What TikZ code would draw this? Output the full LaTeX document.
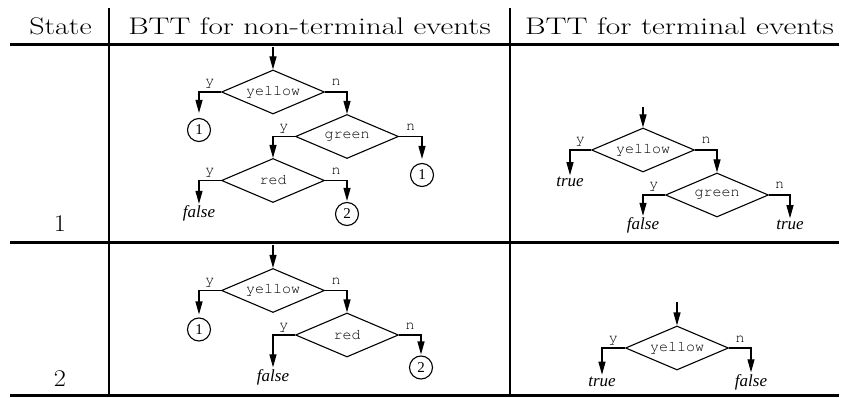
\documentclass[tikz,border=0pt]{standalone}
\usepackage{fontspec}
\usepackage{graphicx}
\usetikzlibrary{shapes.geometric,arrows.meta}
\newfontfamily\monofam{TeX Gyre Cursor}
\newfontfamily\timesfam{Liberation Serif}
\newcommand\hwide[2]{\resizebox{#1}{\height}{#2}}

\begin{document}
\begin{tikzpicture}[x=1pt,y=-1pt,
  hdr/.style={anchor=base,inner sep=0pt,font=\fontsize{24}{28}\selectfont},
  hrule/.style={line width=2.6pt},
  vrule/.style={line width=2pt},
  dia/.style={diamond,draw,line width=1.1pt,aspect=2.35,minimum width=103pt,minimum height=44pt,
    inner sep=0pt,font=\monofam\fontsize{15}{16}\selectfont},
  lab/.style={pos=0.25,anchor=base,yshift=6pt,inner sep=0pt,
    font=\monofam\fontsize{15}{16}\selectfont},
  arr/.style={-{Triangle[length=13pt,width=7pt]},line width=1.1pt},
  circ/.style={circle,draw,line width=1.1pt,minimum size=23pt,inner sep=0pt,
    font=\timesfam\fontsize{15}{16}\selectfont},
  res/.style={anchor=base,inner sep=2pt,font=\timesfam\itshape\fontsize{17}{18}\selectfont}]
\useasboundingbox (0,0) rectangle (841,398);

% table frame
\draw[hrule] (10,44.3) -- (839,44.3);
\draw[hrule] (10,242.5) -- (839,242.5);
\draw[hrule] (10,395.5) -- (839,395.5);
\draw[vrule] (108.8,8) -- (108.8,395.5);
\draw[vrule] (509.5,8) -- (509.5,395.5);

% header and state column
\node[hdr] (hState) at (60.5,35) {\hwide{62.4pt}{State}};
\node[hdr] (hNon) at (309.5,35) {\hwide{362.4pt}{BTT for non-terminal events}};
\node[hdr] (hTerm) at (679.5,35) {\hwide{309pt}{BTT for terminal events}};
\node[hdr] (s1) at (60,231.7) {\scalebox{1.1}[1]{1}};
\node[hdr] (s2) at (60,386.7) {\scalebox{1.1}[1]{2}};

% state 1, non-terminal events
\coordinate (Ain) at (273,47);
\node[dia] (A1) at (273,92) {yellow};
\node[dia] (A2) at (347,136.5) {green};
\node[dia] (A3) at (273,180.5) {red};
\node[circ] (Ac1) at (199,130) {1};
\node[circ] (Ac2) at (422,175) {1};
\node[res] (Af) at (199,218) {false};
\node[circ] (Ac3) at (347,214) {2};
\draw[arr] (Ain) -- (A1.north);
\draw[arr,shorten >=5pt] (A1.west) -| node[lab]{y} (Ac1.north);
\draw[arr] (A1.east) -| node[lab]{n} (A2.north);
\draw[arr] (A2.west) -| node[lab]{y} (A3.north);
\draw[arr,shorten >=4pt] (A2.east) -| node[lab]{n} (Ac2.north);
\draw[arr] (A3.west) -| node[lab]{y} (Af.north);
\draw[arr,shorten >=1pt] (A3.east) -| node[lab]{n} (Ac3.north);

% state 1, terminal events
\coordinate (Bin) at (643,107);
\node[dia] (B1) at (643,150) {yellow};
\node[dia] (B2) at (717,195) {green};
\node[res] (Bt1) at (570,187) {true};
\node[res] (Bf) at (643,230) {false};
\node[res] (Bt2) at (790,230) {true};
\draw[arr] (Bin) -- (B1.north);
\draw[arr] (B1.west) -| node[lab]{y} (Bt1.north);
\draw[arr] (B1.east) -| node[lab]{n} (B2.north);
\draw[arr] (B2.west) -| node[lab]{y} (Bf.north);
\draw[arr] (B2.east) -| node[lab]{n} (Bt2.north);

% state 2, non-terminal events
\coordinate (Cin) at (273,245);
\node[dia] (C1) at (273,290.5) {yellow};
\node[dia] (C2) at (347,335) {red};
\node[circ] (Cc1) at (199,329.5) {1};
\node[res] (Cf) at (273,381.5) {false};
\node[circ] (Cc2) at (421,367.5) {2};
\draw[arr] (Cin) -- (C1.north);
\draw[arr,shorten >=3pt] (C1.west) -| node[lab]{y} (Cc1.north);
\draw[arr] (C1.east) -| node[lab]{n} (C2.north);
\draw[arr] (C2.west) -| node[lab]{y} (Cf.north);
\draw[arr,shorten >=1pt] (C2.east) -| node[lab]{n} (Cc2.north);

% state 2, terminal events
\coordinate (Din) at (677,302);
\node[dia] (D1) at (677,348) {yellow};
\node[res] (Dt) at (602,386.5) {true};
\node[res] (Df) at (751,386.5) {false};
\draw[arr] (Din) -- (D1.north);
\draw[arr] (D1.west) -| node[lab]{y} (Dt.north);
\draw[arr] (D1.east) -| node[lab]{n} (Df.north);
\end{tikzpicture}
\end{document}
